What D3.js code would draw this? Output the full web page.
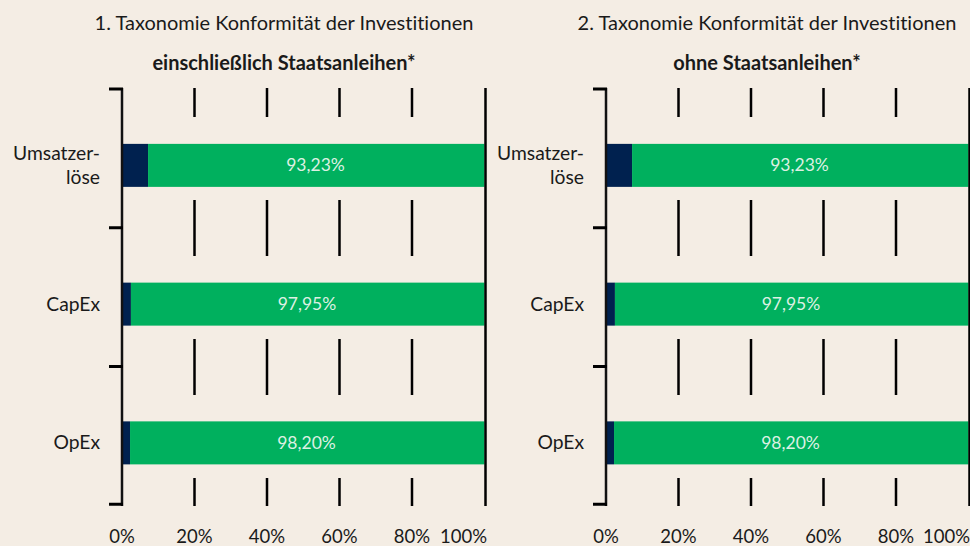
<!DOCTYPE html>
<html>
<head>
<meta charset="utf-8">
<script src="https://cdn.jsdelivr.net/npm/d3@7"></script>
<style>
  html, body { margin: 0; padding: 0; background: #F4EDE4; }
  svg { display: block; }
  text { font-family: Lato, "Open Sans", sans-serif; font-variant-ligatures: none; }
</style>
</head>
<body>
<svg id="chart" width="970" height="546"></svg>
<script>
// ---- data ----
const categories = ["Umsatzerlöse", "CapEx", "OpEx"];
const categoryLabelLines = [["Umsatzer-", "löse"], ["CapEx"], ["OpEx"]];
const panelTitles = ["1. Taxonomie Konformität der Investitionen", "2. Taxonomie Konformität der Investitionen"];
const panelSubtitles = ["einschließlich Staatsanleihen*", "ohne Staatsanleihen*"];
const alignedIncl = [93.23, 97.95, 98.20];
const otherIncl = [6.77, 2.05, 1.80];
const alignedExcl = [93.23, 97.95, 98.20];
const otherExcl = [6.77, 2.05, 1.80];
const xTicks = [0, 20, 40, 60, 80, 100];
const xTickLabels = ["0%", "20%", "40%", "60%", "80%", "100%"];

const panels = [
  { title: panelTitles[0], subtitle: panelSubtitles[0], aligned: alignedIncl, other: otherIncl, x0: 122, x1: 484.5, titleX: 284, right: 487 },
  { title: panelTitles[1], subtitle: panelSubtitles[1], aligned: alignedExcl, other: otherExcl, x0: 606, x1: 968.5, titleX: 767, right: 970 }
];

const colNavy = "#00214F";
const colGreen = "#00B05E";
const textCol = "#1a1a1a";
const svg = d3.select("#chart");

const fmt = v => d3.format(".2f")(v).replace(".", ",") + "%";

panels.forEach(p => {
  const g = svg.append("g");
  const x = d3.scaleLinear().domain([0, 100]).range([p.x0, p.x1]);
  const y = d3.scaleBand().domain(categories).range([96, 512.25]).paddingInner(0).paddingOuter(0);
  const barH = 43;
  const axisTop = 88, axisBottom = 506;

  // titles
  g.append("text").attr("x", p.titleX).attr("y", 30).attr("text-anchor", "middle")
    .attr("font-size", 20).attr("fill", textCol).text(p.title);
  g.append("text").attr("x", p.titleX).attr("y", 70).attr("text-anchor", "middle")
    .attr("font-size", 20).attr("font-weight", "bold").attr("fill", textCol).text(p.subtitle);

  // dashed gridlines
  g.selectAll("line.grid").data(xTicks.filter(t => t > 0 && t < 100)).enter().append("line")
    .attr("class", "grid")
    .attr("x1", d => x(d)).attr("x2", d => x(d))
    .attr("y1", axisTop).attr("y2", axisBottom)
    .attr("stroke", "#000").attr("stroke-width", 2.5)
    .attr("stroke-dasharray", "56 83").attr("stroke-dashoffset", 27);

  // bars
  const rows = categories.map((c, i) => ({ c, other: p.other[i], aligned: p.aligned[i] }));
  const rg = g.selectAll("g.row").data(rows).enter().append("g").attr("class", "row");
  rg.append("rect")
    .attr("x", x(0)).attr("y", d => y(d.c) + y.bandwidth() / 2 - barH / 2)
    .attr("width", d => x(d.other) - x(0) + 1.5).attr("height", barH).attr("fill", colNavy);
  rg.append("rect")
    .attr("x", d => x(d.other) + 1.5).attr("y", d => y(d.c) + y.bandwidth() / 2 - barH / 2)
    .attr("width", d => x(d.other + d.aligned) - x(d.other) - 1.5).attr("height", barH).attr("fill", colGreen);
  rg.append("text")
    .attr("x", d => (x(d.other) + x(d.other + d.aligned)) / 2)
    .attr("y", d => y(d.c) + y.bandwidth() / 2 + 6)
    .attr("text-anchor", "middle").attr("font-size", 17.5).attr("fill", "#DDF0E3")
    .text(d => fmt(d.aligned));

  // 100% solid line
  g.append("line").attr("x1", x(100) + 1).attr("x2", x(100) + 1)
    .attr("y1", axisTop).attr("y2", axisBottom)
    .attr("stroke", "#000").attr("stroke-width", 2.5);

  // left axis line
  g.append("line").attr("x1", x(0)).attr("x2", x(0))
    .attr("y1", axisTop).attr("y2", axisBottom)
    .attr("stroke", "#111").attr("stroke-width", 2.5);
  const tickYs = categories.map(c => y(c) - 7).concat([y(categories[categories.length - 1]) + y.bandwidth() - 8]);
  g.selectAll("line.ytick").data(tickYs).enter().append("line")
    .attr("x1", x(0) - 13).attr("x2", x(0) + 1)
    .attr("y1", d => d).attr("y2", d => d)
    .attr("stroke", "#000").attr("stroke-width", 3);

  // category labels
  const lab = g.selectAll("text.cat").data(categories).enter().append("text")
    .attr("class", "cat").attr("text-anchor", "end").attr("font-size", 19.3).attr("fill", textCol);
  lab.each(function(c, i) {
    const lines = categoryLabelLines[i];
    const cy = y(c) + y.bandwidth() / 2;
    const lh = 23.5;
    const startY = cy - (lines.length - 1) * lh / 2 + 6.5;
    lines.forEach((t, k) => {
      d3.select(this).append("tspan").attr("x", x(0) - 22).attr("y", startY + k * lh).text(t);
    });
  });

  // x tick labels
  g.selectAll("text.xt").data(xTicks).enter().append("text")
    .attr("class", "xt")
    .attr("x", d => d === 100 ? p.right : x(d))
    .attr("y", 543)
    .attr("text-anchor", d => d === 100 ? "end" : "middle")
    .attr("font-size", 18.5).attr("fill", textCol)
    .text((d, i) => xTickLabels[i]);
});
</script>
</body>
</html>
